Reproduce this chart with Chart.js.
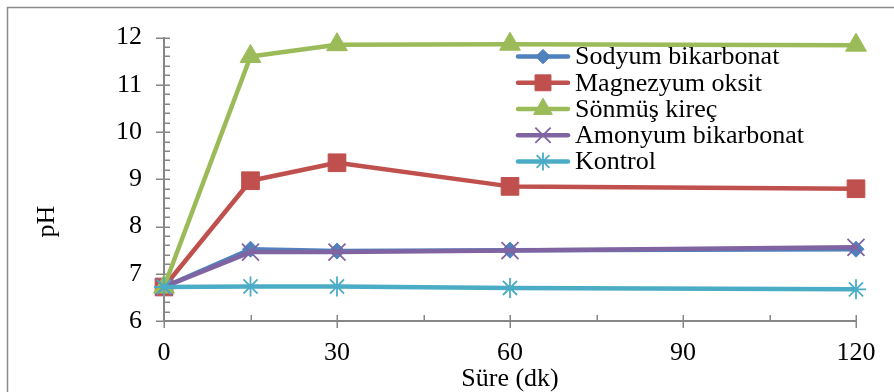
<!DOCTYPE html>
<html>
<head>
<meta charset="utf-8">
<script src="https://cdn.jsdelivr.net/npm/chart.js@4/dist/chart.umd.min.js"></script>
<style>
  html, body { margin: 0; padding: 0; background: #ffffff; }
  #wrap { width: 894px; height: 392px; position: relative; }
</style>
</head>
<body>
<div id="wrap"><canvas id="c" width="894" height="392"></canvas></div>
<script>
// Sampling times (minutes)
const times = [0, 15, 30, 60, 120];

// pH readings per treatment
const sodyumBikarbonat = [6.72, 7.52, 7.48, 7.50, 7.52];
const magnezyumOksit   = [6.72, 8.97, 9.35, 8.85, 8.80];
const sonmusKirec      = [6.72, 11.60, 11.85, 11.86, 11.84];
const amonyumBikarbonat = [6.72, 7.46, 7.46, 7.49, 7.56];
const kontrol          = [6.72, 6.73, 6.73, 6.70, 6.67];

const seriesNames = ['Sodyum bikarbonat', 'Magnezyum oksit', 'Sönmüş kireç', 'Amonyum bikarbonat', 'Kontrol'];
const seriesValues = [sodyumBikarbonat, magnezyumOksit, sonmusKirec, amonyumBikarbonat, kontrol];

// Axis settings
const xTicks = [0, 30, 60, 90, 120];
const yTicks = [6, 7, 8, 9, 10, 11, 12];
const xTitle = 'Süre (dk)';
const yTitle = 'pH';

const FONT = "'Liberation Serif', 'Times New Roman', serif";
const AXIS_GREY = '#868686';

const styles = [
  { color: '#4F81BD', pointStyle: 'rectRot',  radius: 8,  pbw: 1 },
  { color: '#C0504D', pointStyle: 'rect',     radius: 12.5, pbw: 1 },
  { color: '#9BBB59', pointStyle: 'triangle', radius: 12, pbw: 1 },
  { color: '#8064A2', pointStyle: 'crossRot', radius: 12, pbw: 1.8 },
  { color: '#4BACC6', pointStyle: 'star',     radius: 10, pbw: 1.8 }
];

const datasets = seriesNames.map((name, i) => ({
  label: name,
  data: times.map((t, j) => ({ x: t, y: seriesValues[i][j] })),
  borderColor: styles[i].color,
  backgroundColor: styles[i].color,
  borderWidth: 4.5,
  borderJoinStyle: 'round',
  borderCapStyle: 'round',
  tension: 0,
  pointStyle: styles[i].pointStyle,
  pointRadius: styles[i].radius,
  pointHoverRadius: styles[i].radius,
  pointBorderWidth: styles[i].pbw,
  pointBorderColor: styles[i].color,
  pointBackgroundColor: styles[i].color,
  clip: false,
  // later series are painted on top
  order: seriesNames.length - i
}));

// Outer frame of the chart object
const framePlugin = {
  id: 'frame',
  beforeDraw(chart) {
    const ctx = chart.ctx;
    ctx.save();
    ctx.fillStyle = '#ffffff';
    ctx.fillRect(0, 0, chart.width, chart.height);
    ctx.strokeStyle = '#8a8a8a';
    ctx.lineWidth = 1.5;
    ctx.beginPath();
    ctx.moveTo(7.5, chart.height + 2);
    ctx.lineTo(7.5, 7.5);
    ctx.lineTo(chart.width + 2, 7.5);
    ctx.stroke();
    ctx.restore();
  }
};

// Major and minor tick marks crossing the axes, plus the vertical axis title
const tickMarksPlugin = {
  id: 'tickMarks',
  beforeDatasetsDraw(chart) {
    const ctx = chart.ctx;
    const xs = chart.scales.x, ys = chart.scales.y;
    const ax = chart.chartArea.left, ay = chart.chartArea.bottom;
    ctx.save();
    ctx.strokeStyle = AXIS_GREY;
    ctx.lineWidth = 1.5;
    ctx.beginPath();
    // y axis: minor every 0.2, major every 1
    for (let i = 0; i <= 30; i++) {
      const v = ys.min + i * 0.2;
      const py = Math.round(ys.getPixelForValue(v)) + 0.25;
      if (i % 5 === 0) { ctx.moveTo(ax - 8, py); ctx.lineTo(ax + 6, py); }
      else { ctx.moveTo(ax, py); ctx.lineTo(ax + 6, py); }
    }
    // x axis: minor every 15, major every 30
    for (let i = 0; i <= 8; i++) {
      const v = xs.min + i * 15;
      const px = Math.round(xs.getPixelForValue(v)) + 0.25;
      if (i % 2 === 0) { ctx.moveTo(px, ay - 6); ctx.lineTo(px, ay + 7); }
      else { ctx.moveTo(px, ay - 6); ctx.lineTo(px, ay); }
    }
    ctx.stroke();

    // rotated y-axis title, centred a little below the middle of the plot
    ctx.translate(47, chart.chartArea.top + 184);
    ctx.rotate(-Math.PI / 2);
    ctx.fillStyle = '#000000';
    ctx.font = '26px ' + FONT;
    ctx.textAlign = 'center';
    ctx.textBaseline = 'middle';
    ctx.fillText(yTitle, 0, 0);
    ctx.restore();
  }
};

// Legend inside the plot: line sample with marker, then the series name
const inlineLegendPlugin = {
  id: 'inlineLegend',
  afterDatasetsDraw(chart) {
    const ctx = chart.ctx;
    const area = chart.chartArea;
    const x0 = area.left + 354;
    const y0 = area.top + 19;
    const rowH = 26.2;
    const sampleW = 50;
    ctx.save();
    chart.data.datasets.forEach((ds, i) => {
      const y = y0 + i * rowH;
      ctx.strokeStyle = ds.borderColor;
      ctx.lineWidth = 4.5;
      ctx.lineCap = 'round';
      ctx.beginPath();
      ctx.moveTo(x0, y);
      ctx.lineTo(x0 + sampleW, y);
      ctx.stroke();
      ctx.fillStyle = ds.pointBackgroundColor;
      ctx.strokeStyle = ds.pointBorderColor;
      ctx.lineWidth = ds.pointBorderWidth;
      ctx.lineCap = 'butt';
      Chart.helpers.drawPoint(ctx, {
        pointStyle: ds.pointStyle,
        radius: ds.pointRadius * 0.9,
        rotation: 0,
        borderWidth: ds.pointBorderWidth
      }, x0 + sampleW / 2, y);
      ctx.fillStyle = '#000000';
      ctx.font = '26px ' + FONT;
      ctx.textBaseline = 'middle';
      ctx.textAlign = 'left';
      ctx.fillText(ds.label, x0 + sampleW + 7, y + 1);
    });
    ctx.restore();
  }
};

new Chart(document.getElementById('c'), {
  type: 'line',
  data: { datasets },
  options: {
    responsive: false,
    animation: false,
    events: [],
    layout: { padding: { left: 0, right: 38, top: 34, bottom: 0 } },
    plugins: {
      legend: { display: false },
      tooltip: { enabled: false },
      title: { display: false }
    },
    scales: {
      x: {
        type: 'linear',
        min: xTicks[0],
        max: xTicks[xTicks.length - 1],
        afterBuildTicks(scale) { scale.ticks = xTicks.map(v => ({ value: v })); },
        afterFit(scale) { scale.height = 71; },
        grid: { display: false, drawTicks: false },
        border: { display: true, color: AXIS_GREY, width: 2 },
        ticks: {
          color: '#000000',
          padding: 17,
          maxRotation: 0,
          font: { family: FONT, size: 26 }
        },
        title: {
          display: true,
          text: xTitle,
          color: '#000000',
          font: { family: FONT, size: 26, lineHeight: 1 },
          padding: { top: 0, bottom: 0 }
        }
      },
      y: {
        type: 'linear',
        min: yTicks[0],
        max: yTicks[yTicks.length - 1],
        afterBuildTicks(scale) { scale.ticks = yTicks.map(v => ({ value: v })); },
        afterFit(scale) { scale.width = 164; },
        grid: { display: false, drawTicks: false },
        border: { display: true, color: AXIS_GREY, width: 2 },
        ticks: {
          color: '#000000',
          padding: 22,
          font: { family: FONT, size: 26 }
        },
        title: { display: false }
      }
    }
  },
  plugins: [framePlugin, tickMarksPlugin, inlineLegendPlugin]
});
</script>
</body>
</html>
